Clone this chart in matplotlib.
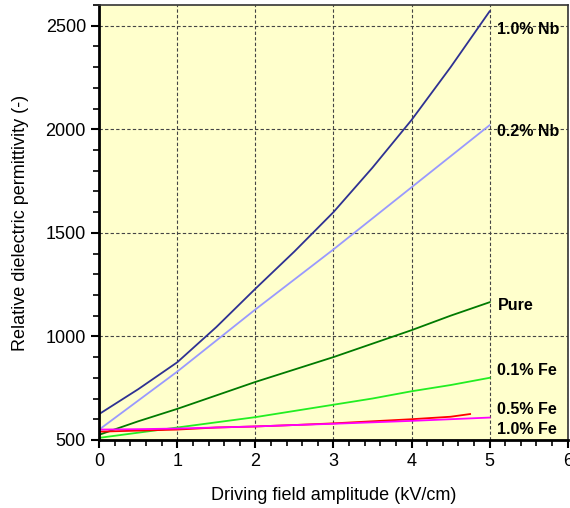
import numpy as np
import matplotlib.pyplot as plt
from matplotlib.ticker import MultipleLocator

# driving field amplitude (kV/cm)
field = [0, 0.5, 1, 1.5, 2, 2.5, 3, 3.5, 4, 4.5, 5]
field_05fe = [0, 0.5, 1, 1.5, 2, 2.5, 3, 3.5, 4, 4.5, 4.75]

# relative permittivity
nb_10 = [625, 745, 875, 1045, 1230, 1410, 1600, 1815, 2045, 2300, 2570]
nb_02 = [550, 690, 830, 980, 1130, 1275, 1420, 1570, 1720, 1870, 2020]
pure = [525, 590, 650, 715, 780, 840, 900, 965, 1030, 1100, 1165]
fe_01 = [510, 535, 560, 585, 610, 640, 670, 700, 735, 765, 800]
fe_05 = [540, 545, 550, 560, 565, 572, 580, 590, 600, 612, 625]
fe_10 = [550, 552, 555, 560, 565, 572, 578, 585, 592, 600, 608]

series = [
    (field, nb_10, '#2e3192', '1.0% Nb'),
    (field, nb_02, '#9999ff', '0.2% Nb'),
    (field, pure, '#007a00', 'Pure'),
    (field, fe_01, '#22ee22', '0.1% Fe'),
    (field_05fe, fe_05, '#ff0000', '0.5% Fe'),
    (field, fe_10, '#ff00ff', '1.0% Fe'),
]
label_y = [2480, 1990, 1150, 836, 646, 550]

plt.rcParams.update({'font.family': ['Liberation Sans', 'DejaVu Sans']})

fig = plt.figure(figsize=(5.7, 5.08), dpi=100)
ax = fig.add_axes([0.174, 0.134, 0.822, 0.856])
ax.set_facecolor('#ffffcc')

for x, y, c, lab in series:
    ax.plot(x, y, color=c, linewidth=1.3)

for (x, y, c, lab), ly in zip(series, label_y):
    ax.text(5.1, ly, lab, fontsize=11.5, fontweight='bold',
            va='center', ha='left')

ax.set_xlim(0, 6)
ax.set_ylim(500, 2600)
ax.xaxis.set_major_locator(MultipleLocator(1))
ax.xaxis.set_minor_locator(MultipleLocator(0.2))
ax.yaxis.set_major_locator(MultipleLocator(500))
ax.yaxis.set_minor_locator(MultipleLocator(100))
ax.tick_params(which='major', direction='out', length=6, width=1.5, labelsize=13)
ax.tick_params(which='minor', direction='out', length=4, width=1.2)
ax.grid(True, which='major', color='#444444', linestyle=(0, (3, 2)), linewidth=0.8)

for sp in ax.spines.values():
    sp.set_linewidth(1.2)
    sp.set_color('#333333')
ax.spines['left'].set_linewidth(2)
ax.spines['bottom'].set_linewidth(2)
ax.spines['left'].set_color('black')
ax.spines['bottom'].set_color('black')

ax.set_xlabel('Driving field amplitude (kV/cm)', fontsize=13, labelpad=12)
ax.set_ylabel('Relative dielectric permittivity (-)', fontsize=13, labelpad=12)

fig.savefig('out.png', dpi=100)
